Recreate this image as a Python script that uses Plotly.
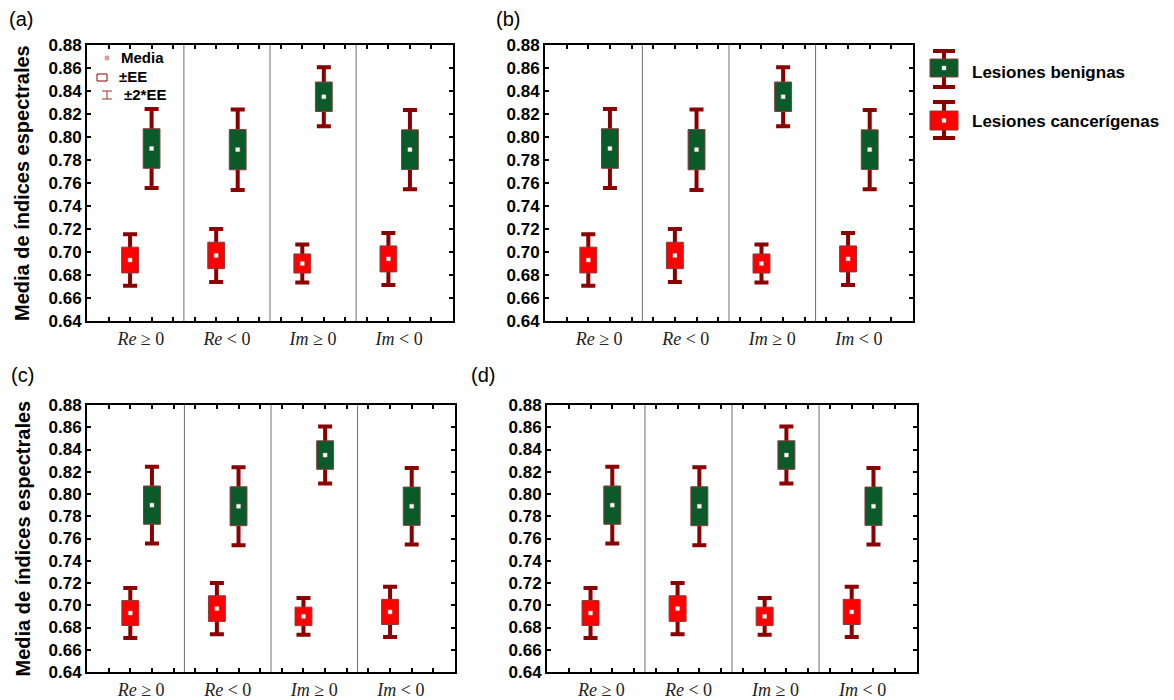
import plotly.graph_objects as go

# ---------------- data ----------------
categories = ["<i>Re</i> ≥ 0", "<i>Re</i> < 0", "<i>Im</i> ≥ 0", "<i>Im</i> < 0"]
benign_mean = [0.790, 0.789, 0.835, 0.789]
benign_se = [0.0172, 0.0175, 0.0128, 0.0172]
cancer_mean = [0.693, 0.697, 0.690, 0.694]
cancer_se = [0.0112, 0.0115, 0.0083, 0.0113]
y_tickvals = [0.64, 0.66, 0.68, 0.70, 0.72, 0.74, 0.76, 0.78, 0.80, 0.82, 0.84, 0.86, 0.88]
y_ticktext = ["0.64", "0.66", "0.68", "0.70", "0.72", "0.74", "0.76", "0.78",
              "0.80", "0.82", "0.84", "0.86", "0.88"]
panel_labels = ["(a)", "(b)", "(c)", "(d)"]
series_names = ["Lesiones benignas", "Lesiones cancerígenas"]
legend_items = ["Media", "±EE", "±2*EE"]

# ---------------- style ----------------
W, H = 1174, 700
GREEN = "#0b5a2a"
RED = "#ff0000"
DARKRED = "#8b0000"
EDGE = "#8b3a3a"
SANS = "Liberation Sans, Arial, sans-serif"
SERIF = "Liberation Serif, Times New Roman, serif"
BOX_HW = 0.39  # box half width in axis units

# panel pixel boxes: (left, right, top, bottom)
panels_px = [(87, 453, 45, 321), (545, 913, 45, 321),
             (87, 455, 405, 672), (547, 917, 405, 672)]
label_px = [(21, 19), (508, 19), (22, 375), (483, 375)]


def px_x(p):
    return p / W


def px_y(p):
    return 1 - p / H


fig = go.Figure()
cat_idx = list(range(len(categories)))
cancer_x = [4 * i + 1 for i in cat_idx]
benign_x = [4 * i + 2 for i in cat_idx]
label_x = [4 * i + 1.5 for i in cat_idx]

for k, (l, r, t, b) in enumerate(panels_px):
    sfx = "" if k == 0 else str(k + 1)
    xa, ya = "x" + sfx, "y" + sfx
    # whiskers (±2*EE)
    for xs, ms, ss in [(benign_x, benign_mean, benign_se), (cancer_x, cancer_mean, cancer_se)]:
        fig.add_trace(go.Scatter(
            x=xs, y=ms, mode="markers", marker=dict(size=1, opacity=0),
            error_y=dict(type="data", array=[2 * s for s in ss], color=DARKRED,
                         thickness=4, width=7),
            xaxis=xa, yaxis=ya, showlegend=False, hoverinfo="skip"))
    # boxes (±EE)
    for xs, ms, ss, col in [(benign_x, benign_mean, benign_se, GREEN),
                            (cancer_x, cancer_mean, cancer_se, RED)]:
        bx, by = [], []
        for c, m, s in zip(xs, ms, ss):
            bx += [c - BOX_HW, c + BOX_HW, c + BOX_HW, c - BOX_HW, c - BOX_HW, None]
            by += [m - s, m - s, m + s, m + s, m - s, None]
        fig.add_trace(go.Scatter(
            x=bx, y=by, mode="lines", fill="toself", fillcolor=col,
            line=dict(color=EDGE, width=1), xaxis=xa, yaxis=ya,
            showlegend=False, hoverinfo="skip"))
    # means
    fig.add_trace(go.Scatter(
        x=benign_x + cancer_x, y=benign_mean + cancer_mean, mode="markers",
        marker=dict(symbol="square", size=4, color="white",
                    line=dict(color="#d8b0b0", width=0.5)),
        xaxis=xa, yaxis=ya, showlegend=False, hoverinfo="skip"))

    xdom = [px_x(l), px_x(r)]
    ydom = [px_y(b), px_y(t)]
    fig.update_layout(**{
        ("xaxis" + sfx): dict(
            domain=xdom, range=[-1, 16], anchor=ya, showgrid=False, zeroline=False,
            showline=True, linecolor="black", linewidth=2, mirror="allticks",
            automargin=False,
            tickmode="array", tickvals=label_x, ticktext=categories, ticks="",
            minor=dict(tickvals=list(range(16)), ticks="inside", ticklen=4,
                       tickwidth=1.5, tickcolor="black"),
            tickfont=dict(family=SERIF, size=18, color="#222")),
        ("yaxis" + sfx): dict(
            domain=ydom, range=[0.64, 0.88], anchor=xa, showgrid=False, zeroline=False,
            showline=True, linecolor="black", linewidth=2, mirror="ticks",
            automargin=False,
            tickmode="array", tickvals=y_tickvals, ticktext=y_ticktext,
            ticks="inside", ticklen=4, tickwidth=1.5, tickcolor="black",
            tickfont=dict(family=SANS, size=17, color="black", weight="bold")),
    })
    # category separators
    for sep in [3.5, 7.5, 11.5]:
        fig.add_shape(type="line", x0=sep, x1=sep, y0=0, y1=1, xref=xa,
                      yref=ya + " domain", line=dict(color="#6e6e6e", width=1))
    # panel label
    lx, ly = label_px[k]
    fig.add_annotation(text=panel_labels[k], x=px_x(lx), y=px_y(ly), xref="paper",
                       yref="paper", showarrow=False, xanchor="center", yanchor="middle",
                       font=dict(family=SANS, size=20, color="black"))
    # y title on left panels
    if k in (0, 2):
        fig.add_annotation(text="Media de índices espectrales", x=px_x(22),
                           y=px_y((t + b) / 2), xref="paper", yref="paper",
                           textangle=-90, showarrow=False, xanchor="center",
                           yanchor="middle",
                           font=dict(family=SANS, size=20, color="black", weight="bold"))

# ---------- panel (a) inner key ----------
fig.add_shape(type="rect", x0=px_x(105), x1=px_x(109), y0=px_y(60), y1=px_y(56),
              xref="paper", yref="paper", line=dict(color="#c89090", width=0.5),
              fillcolor="#d8a8a8")
fig.add_shape(type="rect", x0=px_x(97), x1=px_x(107), y0=px_y(81), y1=px_y(74),
              xref="paper", yref="paper", line=dict(color=DARKRED, width=1),
              fillcolor="white")
for (x0, y0, x1, y1) in [(102, 91, 112, 91), (102, 99, 112, 99), (107, 91, 107, 99)]:
    fig.add_shape(type="line", x0=px_x(x0), x1=px_x(x1), y0=px_y(y0), y1=px_y(y1),
                  xref="paper", yref="paper", line=dict(color="#a03030", width=1))
for txt, xx, yy in zip(legend_items, [119, 117, 122], [58, 77, 95]):
    fig.add_annotation(text=txt, x=px_x(xx), y=px_y(yy), xref="paper", yref="paper",
                       xanchor="left", yanchor="middle", showarrow=False,
                       font=dict(family=SANS, size=15, color="black", weight="bold"))

# ---------- right-hand key ----------
for name, col, (ytop, bt, bb, ybot, ytxt) in zip(
        series_names, [GREEN, RED],
        [(51, 59, 77, 87, 72), (102, 111, 130, 138, 122)]):
    cx = 944
    fig.add_shape(type="line", x0=px_x(cx), x1=px_x(cx), y0=px_y(ytop), y1=px_y(ybot),
                  xref="paper", yref="paper", line=dict(color=DARKRED, width=4))
    for yy in (ytop, ybot):
        fig.add_shape(type="line", x0=px_x(cx - 11), x1=px_x(cx + 11), y0=px_y(yy),
                      y1=px_y(yy), xref="paper", yref="paper",
                      line=dict(color=DARKRED, width=4))
    fig.add_shape(type="rect", x0=px_x(cx - 14), x1=px_x(cx + 14), y0=px_y(bb),
                  y1=px_y(bt), xref="paper", yref="paper",
                  line=dict(color=EDGE, width=1), fillcolor=col)
    fig.add_shape(type="rect", x0=px_x(cx - 2), x1=px_x(cx + 2), y0=px_y((bt + bb) / 2 + 2),
                  y1=px_y((bt + bb) / 2 - 2), xref="paper", yref="paper",
                  line=dict(color="#d8b0b0", width=0.5), fillcolor="white")
    fig.add_annotation(text=name, x=px_x(970), y=px_y(ytxt), xref="paper", yref="paper",
                       xanchor="left", yanchor="middle", showarrow=False,
                       font=dict(family=SANS, size=17, color="black", weight="bold"))

fig.update_layout(width=W, height=H,
                  margin=dict(l=0, r=0, t=0, b=0, pad=0, autoexpand=False),
                  paper_bgcolor="white", plot_bgcolor="white", showlegend=False)

fig.write_html("out.html")
